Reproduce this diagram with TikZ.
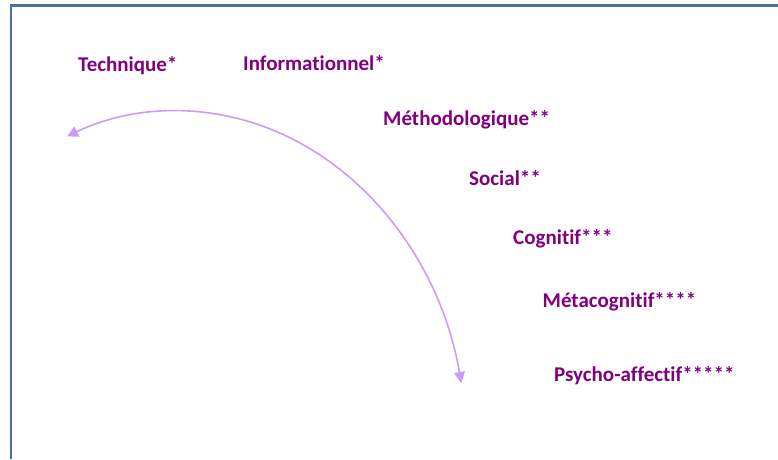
\documentclass[tikz,border=0pt]{standalone}
\usepackage{fontspec}
\setmainfont{Carlito}[Ligatures=NoCommon]
\usetikzlibrary{arrows.meta}

\definecolor{violet}{RGB}{128,0,128}
\definecolor{lavande}{RGB}{204,153,255}
\definecolor{cadre}{RGB}{74,111,165}

\begin{document}
\begin{tikzpicture}[x=1pt, y=1pt,
        niveau/.style={anchor=base west, inner sep=0pt, text=violet,
            font=\fontsize{21}{24}\selectfont\bfseries},
        fleche/.style={lavande, line width=1.6pt,
            {Triangle[length=11pt,width=11pt]}-{Triangle[length=11pt,width=11pt]}}]
            \useasboundingbox (0,0) rectangle (778,459);

            \draw[cadre, line width=2.2pt] (11,0) -- (11,453.5) -- (778,453.5);

            \node[niveau] (technique) at (78,387.5) {Technique*};
            \node[niveau] (info) at (243,388.3) {Informationnel*};
            \node[niveau] (methodo) at (383,333.3) {Méthodologique**};
            \node[niveau] (social) at (469,273.3) {Social**};
            \node[niveau] (cognitif) at (513,215) {Cognitif***};
            \node[niveau] (metacog) at (542.5,151.7) {Métacognitif****};
            \node[niveau] (psycho) at (554,77.3) {Psycho-affectif*****};

            \coordinate (bas) at (461.3,76);
            \draw[fleche] (bas) arc[start angle=11.4, end angle=112.3,
                x radius=290pt, y radius=339pt] coordinate (gauche);
        \end{tikzpicture}
\end{document}
